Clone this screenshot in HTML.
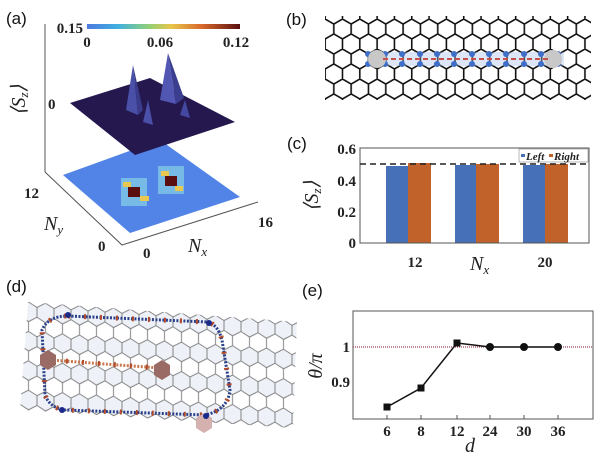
<!DOCTYPE html>
<html><head><meta charset="utf-8"><style>
html,body{margin:0;padding:0;background:#fff}
svg{display:block}
.lab{font-family:"Liberation Sans",sans-serif;font-size:17px;fill:#111}
.tk{font-family:"Liberation Serif",serif;font-weight:bold;font-size:15px;fill:#222}
.it{font-family:"Liberation Serif",serif;font-style:italic;font-size:20px;fill:#222}
</style></head><body>
<svg width="600" height="456" viewBox="0 0 600 456" xmlns="http://www.w3.org/2000/svg">
<defs>
<pattern id="hexb" patternUnits="userSpaceOnUse" width="17.32" height="30" x="316.5" y="19">
<path d="M8.66,0 L17.32,5 L17.32,15 L8.66,20 L0,15 L0,5 Z M8.66,20 L8.66,30" fill="none" stroke="#111" stroke-width="1.6"/>
</pattern>
<pattern id="hexd" patternUnits="userSpaceOnUse" width="17" height="29.4" x="20" y="300" patternTransform="skewY(4)">
<path d="M8.5,0 L17,4.9 L17,14.7 L8.5,19.6 L0,14.7 L0,4.9 Z M8.5,19.6 L8.5,29.4" fill="#eef2f8" stroke="#777" stroke-width="0.9"/>
</pattern>
<linearGradient id="cb" x1="0" x2="1" y1="0" y2="0">
<stop offset="0" stop-color="#4e79e0"/><stop offset="0.2" stop-color="#3fb0e0"/><stop offset="0.4" stop-color="#8fd07a"/><stop offset="0.55" stop-color="#e8c64a"/><stop offset="0.75" stop-color="#d8692c"/><stop offset="1" stop-color="#5a1010"/>
</linearGradient>
</defs>

<!-- (a) -->
<text class="lab" x="6" y="24">(a)</text>
<rect x="87" y="24" width="153" height="5" fill="url(#cb)"/>
<text class="tk" x="83" y="33" text-anchor="end">0.15</text>
<text class="tk" x="87" y="47" text-anchor="middle">0</text>
<text class="tk" x="160" y="47" text-anchor="middle">0.06</text>
<text class="tk" x="236" y="47" text-anchor="middle">0.12</text>
<line x1="45" y1="24" x2="45" y2="172" stroke="#555" stroke-width="1"/>
<text class="tk" x="48" y="109">0</text>
<text class="it" transform="translate(25,100) rotate(-90)" text-anchor="middle">⟨S<tspan font-size="13" dy="3">z</tspan><tspan dy="-3">⟩</tspan></text>
<!-- bottom plane -->
<polygon points="63,175 160,140 240,197 130,233" fill="#5284e8"/>
<g fill="#7ec4e6" opacity="0.85">
<rect x="121" y="178" width="26" height="28"/>
<rect x="158" y="166" width="26" height="28"/>
</g>
<rect x="123" y="182" width="8" height="5" fill="#e8c850"/>
<rect x="128" y="187" width="12" height="10" fill="#5a0e0e"/>
<rect x="140" y="196" width="9" height="5" fill="#e8c850"/>
<rect x="161" y="171" width="8" height="5" fill="#e8c850"/>
<rect x="165" y="176" width="12" height="10" fill="#5a0e0e"/>
<rect x="175" y="186" width="8" height="5" fill="#e8c850"/>
<!-- top surface -->
<polygon points="70,103 150,78 235,122 135,155" fill="#24184f"/>
<polygon points="126,110 133,65 138,115" fill="#4a4fa8"/>
<polygon points="133,65 138,115 143,110" fill="#3a3b8a"/>
<polygon points="160,100 168,53 176,104" fill="#5257b3"/>
<polygon points="168,53 176,104 184,98" fill="#3b3d8e"/>
<polygon points="143,122 148,100 153,125" fill="#4a4fa8"/>
<polygon points="180,115 185,100 190,118" fill="#4448a0"/>
<!-- axes -->
<polyline points="45,172 122,245 258,202" fill="none" stroke="#555" stroke-width="1"/>
<text class="tk" x="24" y="198">12</text>
<text class="it" x="44" y="230">N<tspan font-size="13" dy="4">y</tspan></text>
<text class="tk" x="98" y="251">0</text>
<text class="tk" x="143" y="258">0</text>
<text class="it" x="188" y="252">N<tspan font-size="13" dy="4">x</tspan></text>
<text class="tk" x="258" y="227">16</text>

<!-- (b) -->
<text class="lab" x="286" y="25">(b)</text>
<rect x="325" y="16" width="266" height="84" fill="url(#hexb)"/>
<rect x="368" y="52" width="196" height="14" fill="#9cb8e4" opacity="0.35"/>
<g fill="#3f6fc8">
<circle cx="368" cy="54" r="3"/><circle cx="385" cy="64" r="3"/><circle cx="402" cy="54" r="3"/><circle cx="420" cy="64" r="3"/><circle cx="437" cy="54" r="3"/><circle cx="454" cy="64" r="3"/><circle cx="472" cy="54" r="3"/><circle cx="489" cy="64" r="3"/><circle cx="506" cy="54" r="3"/><circle cx="524" cy="64" r="3"/><circle cx="541" cy="54" r="3"/><circle cx="558" cy="64" r="3"/>
<circle cx="385" cy="54" r="3"/><circle cx="420" cy="54" r="3"/><circle cx="454" cy="54" r="3"/><circle cx="489" cy="54" r="3"/><circle cx="524" cy="54" r="3"/><circle cx="558" cy="54" r="3"/>
<circle cx="368" cy="64" r="3"/><circle cx="402" cy="64" r="3"/><circle cx="437" cy="64" r="3"/><circle cx="472" cy="64" r="3"/><circle cx="506" cy="64" r="3"/><circle cx="541" cy="64" r="3"/>
</g>
<circle cx="377" cy="59" r="9" fill="#c8c8c8"/>
<circle cx="553" cy="59" r="9" fill="#c8c8c8"/>
<line x1="383" y1="59" x2="550" y2="59" stroke="#c8504a" stroke-width="2" stroke-dasharray="5,3"/>

<!-- (c) -->
<text class="lab" x="287" y="149">(c)</text>
<rect x="386" y="166" width="22" height="77" fill="#4670b8"/>
<rect x="408" y="163" width="23" height="80" fill="#c0622a"/>
<rect x="455" y="165" width="21" height="78" fill="#4670b8"/>
<rect x="476" y="164" width="23" height="79" fill="#c0622a"/>
<rect x="523" y="165" width="22" height="78" fill="#4670b8"/>
<rect x="545" y="164" width="23" height="79" fill="#c0622a"/>
<rect x="360" y="148" width="229" height="95" fill="none" stroke="#555" stroke-width="1"/>
<line x1="360" y1="164" x2="589" y2="164" stroke="#222" stroke-width="1.5" stroke-dasharray="6,4"/>
<rect x="519" y="149" width="69" height="13" fill="#fff" stroke="#888" stroke-width="0.6"/>
<rect x="521" y="154" width="4" height="3" fill="#4670b8"/>
<text x="526" y="160" font-family="Liberation Serif,serif" font-weight="bold" font-style="italic" font-size="11" fill="#222">Left</text>
<rect x="549" y="154" width="4" height="3" fill="#c0622a"/>
<text x="554" y="160" font-family="Liberation Serif,serif" font-weight="bold" font-style="italic" font-size="11" fill="#222">Right</text>
<text class="tk" x="356" y="154" text-anchor="end">0.6</text>
<text class="tk" x="356" y="186" text-anchor="end">0.4</text>
<text class="tk" x="356" y="217" text-anchor="end">0.2</text>
<text class="tk" x="356" y="248" text-anchor="end">0</text>
<text class="it" transform="translate(318,196) rotate(-90)" text-anchor="middle">⟨S<tspan font-size="13" dy="3">z</tspan><tspan dy="-3">⟩</tspan></text>
<text class="tk" x="415" y="267" text-anchor="middle">12</text>
<text class="it" x="470" y="270">N<tspan font-size="13" dy="4">x</tspan></text>
<text class="tk" x="545" y="267" text-anchor="middle">20</text>

<!-- (d) -->
<text class="lab" x="6" y="292">(d)</text>
<polygon points="28,302 297,322 293,428 20,410" fill="url(#hexd)"/>
<path d="M68,316 L208,322 Q218,325 222,340 L230,390 Q228,410 205,415 L65,410 Q50,408 45,395 L42,330 Q48,316 68,316 Z" fill="none" stroke="#2a3f8a" stroke-width="3" stroke-dasharray="2,1.5"/>
<path d="M68,316 L208,322 Q218,325 222,340 L230,390 Q228,410 205,415 L65,410 Q50,408 45,395 L42,330 Q48,316 68,316 Z" fill="none" stroke="#b24a2a" stroke-width="5" stroke-dasharray="2,14"/>
<line x1="50" y1="360" x2="160" y2="368" stroke="#c8784e" stroke-width="3" stroke-dasharray="2,1.5"/>
<line x1="50" y1="360" x2="160" y2="368" stroke="#b24a2a" stroke-width="5" stroke-dasharray="2,14"/>
<polygon points="48,350 56,355 56,365 48,370 40,365 40,355" fill="#9a6a64"/>
<polygon points="162,360 170,365 170,375 162,380 154,375 154,365" fill="#9a6a64"/>
<polygon points="204,413 212,418 212,428 204,433 196,428 196,418" fill="#d4b0ae"/>
<g fill="#1a2a8a"><circle cx="68" cy="315" r="3"/><circle cx="209" cy="323" r="3"/><circle cx="62" cy="410" r="3"/><circle cx="206" cy="416" r="3"/></g>

<!-- (e) -->
<text class="lab" x="302" y="296">(e)</text>
<rect x="353" y="311" width="240" height="108" fill="none" stroke="#555" stroke-width="1"/>
<line x1="353" y1="347" x2="593" y2="347" stroke="#a04050" stroke-width="1.2" stroke-dasharray="1,1"/>
<polyline points="387,407 421,388 457,343 490,347 524,347 558,347" fill="none" stroke="#111" stroke-width="1.5"/>
<g fill="#111"><rect x="383.5" y="403.5" width="7" height="7"/><rect x="417.5" y="384.5" width="7" height="7"/><rect x="453.5" y="339.5" width="7" height="7"/><circle cx="490" cy="347" r="4"/><circle cx="524" cy="347" r="4"/><circle cx="558" cy="347" r="4"/></g>
<g stroke="#555"><line x1="387" y1="419" x2="387" y2="415"/><line x1="421" y1="419" x2="421" y2="415"/><line x1="457" y1="419" x2="457" y2="415"/><line x1="490" y1="419" x2="490" y2="415"/><line x1="524" y1="419" x2="524" y2="415"/><line x1="558" y1="419" x2="558" y2="415"/></g>
<text class="tk" x="350" y="352" text-anchor="end" font-size="14">1</text>
<text class="tk" x="350" y="387" text-anchor="end" font-size="14">0.9</text>
<g class="tk" text-anchor="middle" font-size="14">
<text x="387" y="436">6</text><text x="421" y="436">8</text><text x="457" y="436">12</text><text x="490" y="436">24</text><text x="524" y="436">30</text><text x="558" y="436">36</text></g>
<text class="it" x="470" y="452" text-anchor="middle">d</text>
<text class="it" transform="translate(322,366) rotate(-90)" text-anchor="middle" font-size="17">θ/π</text>
</svg>
</body></html>
